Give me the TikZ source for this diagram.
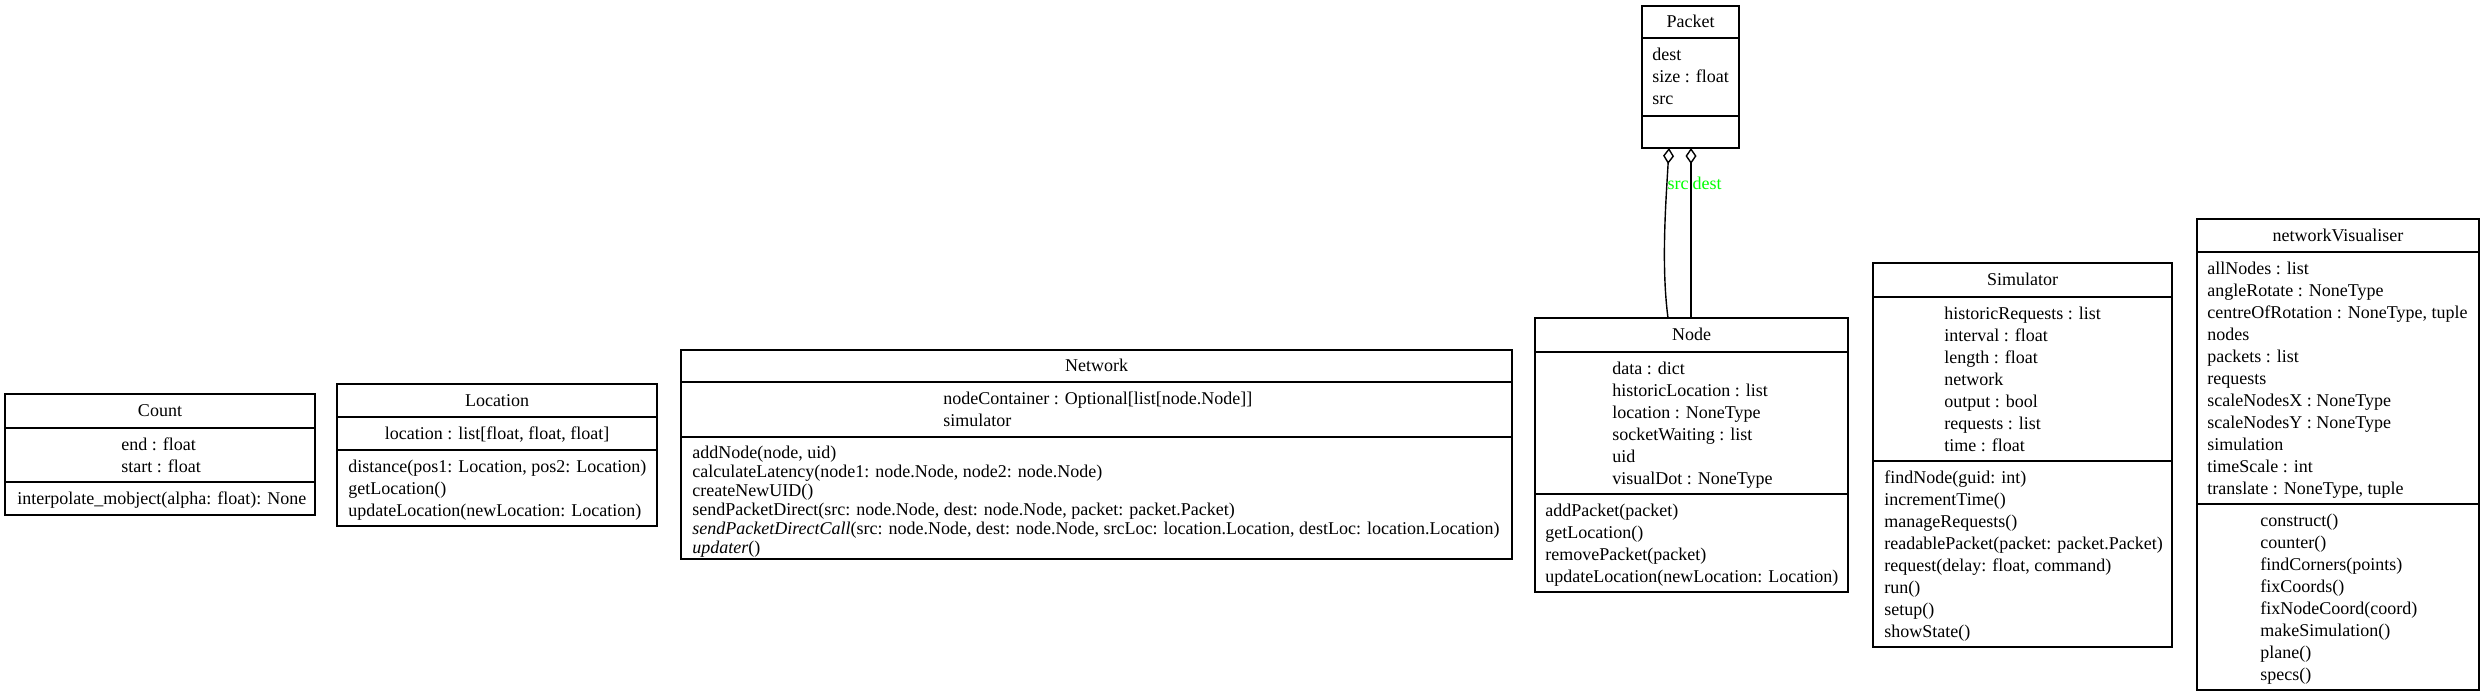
\documentclass[tikz,border=0pt]{standalone}
\usepackage{fontspec}
\setmainfont{Liberation Serif}
\usetikzlibrary{arrows.meta,fit}
\definecolor{gvgreen}{RGB}{0,255,0}
% #1 name prefix, #2 anchor, #3 x, #4 centre y of first line, #5 line step, #6 lines
\newcommand{\umllines}[6]{%
  \foreach \t [count=\i from 0] in {#6} {%
    \node[txt, anchor=#2] (#1\i) at (#3, #4+#5*\i+5.5) {\t};
  }}
\begin{document}
\begin{tikzpicture}[x=0.5pt, y=-0.5pt,
  box/.style={draw=black, line width=0.7pt, inner sep=0pt, outer sep=0pt},
  sepline/.style={draw=black, line width=0.7pt},
  txt/.style={inner sep=0pt, font=\fontsize{9pt}{11pt}\selectfont, text=black},
  lbl/.style={inner sep=0pt, font=\fontsize{9pt}{11pt}\selectfont, text=gvgreen},
  assoc/.style={draw=black, line width=0.7pt},
  agg/.style={{Diamond[open, length=8pt, width=5.5pt]}-}]
\useasboundingbox (0,0) rectangle (2486,697);

% ---------------- Count
\node[box, fit={(5,394) (315,515)}] (count) {};
\draw[sepline] (count.west |- 0,428) -- (count.east |- 0,428);
\draw[sepline] (count.west |- 0,482) -- (count.east |- 0,482);
\node[txt, anchor=base] (countT) at (160, 411+5.5) {Count};
\umllines{countA}{base west}{121}{445}{22}{end : float, start : float}
\umllines{countM}{base west}{17}{499}{22}{interpolate\_mobject(alpha: float): None}

% ---------------- Location
\node[box, fit={(337,384) (657,526)}] (location) {};
\draw[sepline] (location.west |- 0,417) -- (location.east |- 0,417);
\draw[sepline] (location.west |- 0,450) -- (location.east |- 0,450);
\node[txt, anchor=base] (locationT) at (497, 400.5+5.5) {Location};
\node[txt, anchor=base] (locationA0) at (497, 434+5.5) {location : list[float, float, float]};
\umllines{locationM}{base west}{348}{467}{22}{{distance(pos1: Location, pos2: Location)}, getLocation(), {updateLocation(newLocation: Location)}}

% ---------------- Network
\node[box, fit={(681,350) (1512,559)}] (network) {};
\draw[sepline] (network.west |- 0,382) -- (network.east |- 0,382);
\draw[sepline] (network.west |- 0,437) -- (network.east |- 0,437);
\node[txt, anchor=base] (networkT) at (1096.5, 366+5.5) {Network};
\umllines{networkA}{base west}{943}{399}{22}{{nodeContainer : Optional[list[node.Node]]}, simulator}
\umllines{networkM}{base west}{692}{453}{19}{{addNode(node, uid)}, {calculateLatency(node1: node.Node, node2: node.Node)}, createNewUID(), {sendPacketDirect(src: node.Node, dest: node.Node, packet: packet.Packet)}, {\textit{sendPacketDirectCall}(src: node.Node, dest: node.Node, srcLoc: location.Location, destLoc: location.Location)}, {\textit{updater}()}}

% ---------------- Packet
\node[box, fit={(1642,6) (1739,148)}] (packet) {};
\draw[sepline] (packet.west |- 0,38) -- (packet.east |- 0,38);
\draw[sepline] (packet.west |- 0,116) -- (packet.east |- 0,116);
\node[txt, anchor=base] (packetT) at (1690.5, 22+5.5) {Packet};
\umllines{packetA}{base west}{1652}{55}{22}{dest, size : float, src}

% ---------------- Node
\node[box, fit={(1535,318) (1848,592)}] (nodecls) {};
\draw[sepline] (nodecls.west |- 0,352) -- (nodecls.east |- 0,352);
\draw[sepline] (nodecls.west |- 0,494) -- (nodecls.east |- 0,494);
\node[txt, anchor=base] (nodeclsT) at (1691.5, 335+5.5) {Node};
\umllines{nodeclsA}{base west}{1612}{369}{22}{data : dict, historicLocation : list, location : NoneType, socketWaiting : list, uid, visualDot : NoneType}
\umllines{nodeclsM}{base west}{1545}{511}{22}{addPacket(packet), getLocation(), removePacket(packet), {updateLocation(newLocation: Location)}}

% ---------------- Simulator
\node[box, fit={(1873,263) (2172,647)}] (simulator) {};
\draw[sepline] (simulator.west |- 0,297) -- (simulator.east |- 0,297);
\draw[sepline] (simulator.west |- 0,461) -- (simulator.east |- 0,461);
\node[txt, anchor=base] (simulatorT) at (2022.5, 280+5.5) {Simulator};
\umllines{simulatorA}{base west}{1944}{314}{22}{historicRequests : list, interval : float, length : float, network, output : bool, requests : list, time : float}
\umllines{simulatorM}{base west}{1884}{478}{22}{findNode(guid: int), incrementTime(), manageRequests(), {readablePacket(packet: packet.Packet)}, {request(delay: float, command)}, run(), setup(), showState()}

% ---------------- networkVisualiser
\node[box, fit={(2197,219) (2479,690)}] (netvis) {};
\draw[sepline] (netvis.west |- 0,252) -- (netvis.east |- 0,252);
\draw[sepline] (netvis.west |- 0,504) -- (netvis.east |- 0,504);
\node[txt, anchor=base] (netvisT) at (2338, 235.5+5.5) {networkVisualiser};
\umllines{netvisA}{base west}{2207}{269}{22}{allNodes : list, angleRotate : NoneType, {centreOfRotation : NoneType, tuple}, nodes, packets : list, requests, scaleNodesX : NoneType, scaleNodesY : NoneType, simulation, timeScale : int, {translate : NoneType, tuple}}
\umllines{netvisM}{base west}{2260}{521}{22}{construct(), counter(), findCorners(points), fixCoords(), fixNodeCoord(coord), makeSimulation(), plane(), specs()}

% ---------------- associations Packet <>-- Node
\draw[assoc, agg] ([xshift=-10.75pt]packet.south) .. controls (1666,200) and (1661,265) .. ([xshift=-11.75pt]nodecls.north);
\draw[assoc, agg] ([xshift=0.25pt]packet.south) -- ([xshift=-0.25pt]nodecls.north);
\node[lbl, anchor=base] (srclbl) at (1678, 184+5.5) {src};
\node[lbl, anchor=base] (destlbl) at (1707, 184+5.5) {dest};
\end{tikzpicture}
\end{document}
